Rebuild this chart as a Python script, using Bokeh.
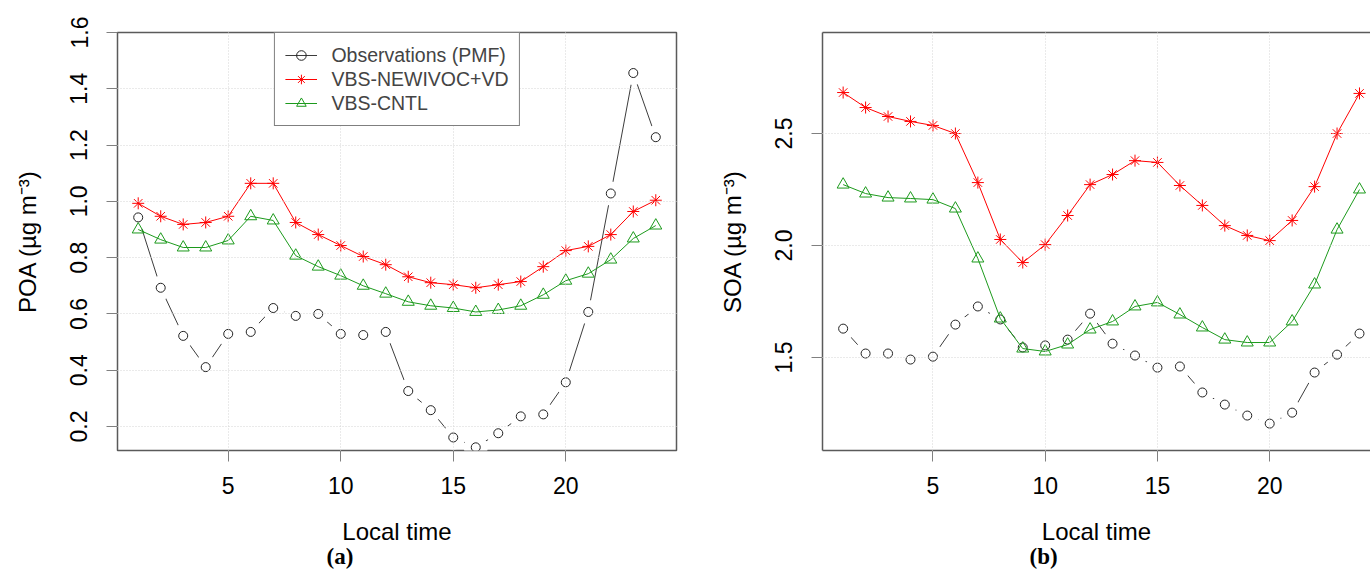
from bokeh.plotting import figure
from bokeh.layouts import row
from bokeh.models import FixedTicker, Legend, LegendItem, Title, LinearAxis, Range1d
from bokeh.embed import file_html
from bokeh.resources import INLINE

# ---------------- data ----------------
hours = list(range(1, 25))
x_ticks = [5, 10, 15, 20]

poa_obs = [0.943, 0.693, 0.522, 0.411, 0.529, 0.536, 0.621, 0.593, 0.600, 0.529, 0.525, 0.536,
           0.326, 0.258, 0.161, 0.126, 0.176, 0.236, 0.243, 0.357, 0.607, 1.028, 1.456, 1.228]
poa_newivoc = [0.993, 0.947, 0.918, 0.925, 0.947, 1.064, 1.064, 0.925, 0.882, 0.843, 0.804, 0.775,
               0.732, 0.711, 0.704, 0.693, 0.704, 0.715, 0.768, 0.825, 0.840, 0.882, 0.964, 1.004]
poa_cntl = [0.900, 0.864, 0.836, 0.836, 0.861, 0.947, 0.932, 0.807, 0.768, 0.736, 0.700, 0.672,
            0.643, 0.629, 0.621, 0.607, 0.614, 0.629, 0.668, 0.718, 0.743, 0.793, 0.868, 0.914]

soa_obs = [1.629, 1.518, 1.518, 1.491, 1.504, 1.647, 1.728, 1.670, 1.545, 1.554, 1.580, 1.696,
           1.562, 1.509, 1.455, 1.460, 1.344, 1.290, 1.241, 1.205, 1.254, 1.433, 1.513, 1.607]
soa_newivoc = [2.683, 2.616, 2.576, 2.554, 2.536, 2.500, 2.281, 2.027, 1.924, 2.004, 2.134, 2.272,
               2.317, 2.379, 2.371, 2.268, 2.179, 2.089, 2.045, 2.022, 2.112, 2.263, 2.500, 2.679]
soa_cntl = [2.272, 2.232, 2.214, 2.210, 2.205, 2.165, 1.942, 1.674, 1.540, 1.527, 1.558, 1.625,
            1.661, 1.728, 1.746, 1.692, 1.634, 1.580, 1.567, 1.567, 1.661, 1.826, 2.071, 2.250]

poa_ticks = [0.2, 0.4, 0.6, 0.8, 1.0, 1.2, 1.4, 1.6]
poa_tick_labels = ["0.2", "0.4", "0.6", "0.8", "1.0", "1.2", "1.4", "1.6"]
soa_ticks = [1.5, 2.0, 2.5]
soa_tick_labels = ["1.5", "2.0", "2.5"]

series_names = ["Observations (PMF)", "VBS-NEWIVOC+VD", "VBS-CNTL"]

FONT = "Liberation Sans"
BOX = "#5a5a5a"
TICK = "#808080"
RED = "#FF0000"
GREEN = "#1C9A1C"
OBS_LINE = "#3c3c3c"
OBS_PT = "#222222"


def style_axis(ax, ticks, labels=None):
    ax.ticker = FixedTicker(ticks=ticks)
    if labels is not None:
        ax.major_label_overrides = {t: l for t, l in zip(ticks, labels)}
    ax.major_tick_out = 11
    ax.major_tick_in = 0
    ax.minor_tick_line_color = None
    ax.major_tick_line_color = TICK
    ax.major_label_text_font = FONT
    ax.major_label_text_font_size = "23px"
    ax.major_label_text_color = "black"
    ax.axis_label_text_font = FONT
    ax.axis_label_text_font_size = "24px"
    ax.axis_label_text_font_style = "normal"
    ax.axis_label_text_color = "black"


def make_panel(width, border_left, border_right, x_end, y_rng, yticks, ylabels, ylabel,
               obs, new, cntl, caption, cap_offset, with_legend, full_box):
    p = figure(width=width, height=571, x_range=Range1d(0.08, x_end), y_range=Range1d(*y_rng),
               output_backend="svg", toolbar_location=None,
               min_border_left=border_left, min_border_right=border_right,
               min_border_top=32, min_border_bottom=121)
    p.background_fill_color = "white"
    p.border_fill_color = "white"

    style_axis(p.xaxis[0], x_ticks)
    style_axis(p.yaxis[0], yticks, ylabels)
    p.xaxis.major_label_standoff = 15
    p.yaxis.major_label_standoff = 19
    p.xaxis.axis_label = "Local time"
    p.xaxis.axis_label_standoff = 21
    p.yaxis.axis_label = ylabel
    p.yaxis.axis_label_standoff = 27
    p.yaxis.major_label_orientation = "vertical"

    if full_box:
        p.outline_line_color = BOX
        p.outline_line_width = 1.5
        p.xaxis.axis_line_color = None
        p.yaxis.axis_line_color = None
    else:
        p.outline_line_color = None
        p.xaxis.axis_line_color = BOX
        p.xaxis.axis_line_width = 1.5
        p.yaxis.axis_line_color = BOX
        p.yaxis.axis_line_width = 1.5
        top = LinearAxis(ticker=FixedTicker(ticks=[]), axis_line_color=BOX, axis_line_width=1.5,
                         major_tick_line_color=None, minor_tick_line_color=None,
                         major_label_text_font_size="0px")
        p.add_layout(top, "above")

    p.xgrid.ticker = FixedTicker(ticks=x_ticks)
    p.ygrid.ticker = FixedTicker(ticks=yticks)
    for g in (p.xgrid[0], p.ygrid[0]):
        g.grid_line_color = "#d4d4d4"
        g.grid_line_dash = "1 2"
        g.grid_line_width = 1
        g.level = "guide"

    # observations: line with gaps around the points (R type "b")
    r_obs_line = p.line(hours, obs, line_color=OBS_LINE, line_width=1)
    p.scatter(hours, obs, marker="circle", size=24, fill_color="white", line_color=None)
    r_obs_pts = p.scatter(hours, obs, marker="circle", size=9, fill_color=None,
                          line_color=OBS_PT, line_width=1)

    r_new_line = p.line(hours, new, line_color=RED, line_width=1)
    r_new_pts = p.scatter(hours, new, marker="asterisk", size=12, line_color=RED, line_width=1)

    r_cntl_line = p.line(hours, cntl, line_color=GREEN, line_width=1)
    r_cntl_pts = p.scatter(hours, cntl, marker="triangle", size=12, fill_color=None,
                           line_color=GREEN, line_width=1)

    if with_legend:
        legend = Legend(items=[
            LegendItem(label=series_names[0], renderers=[r_obs_line, r_obs_pts]),
            LegendItem(label=series_names[1], renderers=[r_new_line, r_new_pts]),
            LegendItem(label=series_names[2], renderers=[r_cntl_line, r_cntl_pts]),
        ], location="top", margin=0, padding=10, spacing=0, label_standoff=15,
            glyph_width=32, glyph_height=24, label_height=24,
            label_text_font=FONT, label_text_font_size="19.5px",
            border_line_color="black", border_line_width=1,
            background_fill_color="white", background_fill_alpha=1.0)
        p.add_layout(legend)

    cap = Title(text=caption, align="left", offset=cap_offset, standoff=-11,
                text_font="Liberation Serif", text_font_style="bold", text_font_size="23px",
                text_color="black")
    p.add_layout(cap, "below")
    return p


p1 = make_panel(700, 117, 24, 24.92, (0.1147, 1.6), poa_ticks, poa_tick_labels,
                "POA (µg m⁻³)", poa_obs, poa_newivoc, poa_cntl, "(a)", 209, True, True)
p2 = make_panel(670, 122, 0, 24.49, (1.085, 2.951), soa_ticks, soa_tick_labels,
                "SOA (µg m⁻³)", soa_obs, soa_newivoc, soa_cntl, "(b)", 207, False, False)

layout = row(p1, p2)
open("out.html", "w").write(file_html(layout, INLINE))
